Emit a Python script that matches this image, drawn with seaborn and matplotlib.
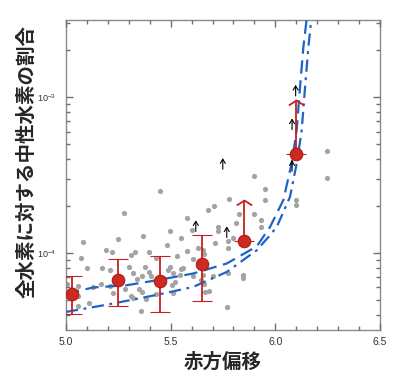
import numpy as np
import pandas as pd
import matplotlib
matplotlib.use("Agg")
import matplotlib.pyplot as plt
import matplotlib.lines as mlines
from matplotlib.path import Path
from matplotlib.ticker import NullFormatter, MultipleLocator, LogLocator, FormatStrFormatter
import seaborn as sns

# gray sample points (redshift, neutral fraction)
z_pts = [5.449, 5.279, 5.080, 5.250, 5.190, 5.221, 5.369, 5.330, 5.309, 5.398,
         5.070, 5.099, 5.171, 5.210, 5.300, 5.379, 5.430, 5.319, 5.397, 5.362,
         5.341, 5.405, 5.006, 5.059, 5.130, 5.166, 5.210, 5.226, 5.282, 5.350,
         5.362, 5.309, 5.059, 5.003, 5.322, 5.382, 5.430, 5.111, 5.059, 5.358,
         5.900, 5.951, 5.779, 5.709, 5.680, 5.828, 5.900, 5.580, 5.930, 5.497,
         5.601, 5.728, 5.728, 5.811, 5.930, 5.799, 5.773, 5.549, 5.481, 5.712,
         5.773, 5.656, 5.629, 5.580, 5.529, 5.661, 5.608, 5.558, 5.548, 5.497,
         5.489, 5.513, 5.545, 5.521, 5.505, 5.513, 5.608, 5.656, 5.646, 5.661,
         5.701, 5.773, 5.847, 5.847, 5.664, 5.685, 5.771, 6.248, 6.248, 5.951,
         6.099, 6.099]
f_pts = [2.50e-4, 1.81e-4, 1.17e-4, 1.22e-4, 1.05e-4, 1.01e-4, 1.29e-4, 1.02e-4, 9.67e-5, 1.01e-4,
         9.29e-5, 8.05e-5, 7.97e-5, 7.74e-5, 8.13e-5, 8.13e-5, 9.34e-5, 7.44e-5, 7.51e-5, 7.08e-5,
         6.81e-5, 7.16e-5, 6.35e-5, 6.11e-5, 6.05e-5, 6.36e-5, 6.11e-5, 5.53e-5, 5.90e-5, 5.90e-5,
         5.62e-5, 5.27e-5, 5.27e-5, 5.27e-5, 5.12e-5, 5.09e-5, 5.43e-5, 4.78e-5, 4.55e-5, 4.22e-5,
         3.13e-4, 2.59e-4, 2.21e-4, 2.01e-4, 1.88e-4, 1.77e-4, 1.77e-4, 1.68e-4, 1.62e-4, 1.38e-4,
         1.40e-4, 1.46e-4, 1.38e-4, 1.55e-4, 1.46e-4, 1.24e-4, 1.19e-4, 1.25e-4, 1.13e-4, 1.16e-4,
         1.08e-4, 1.05e-4, 1.07e-4, 1.03e-4, 9.53e-5, 9.91e-5, 9.20e-5, 8.01e-5, 7.86e-5, 8.13e-5,
         7.82e-5, 7.44e-5, 7.19e-5, 6.52e-5, 6.21e-5, 5.53e-5, 7.08e-5, 7.19e-5, 6.68e-5, 6.27e-5,
         7.12e-5, 7.48e-5, 7.26e-5, 6.95e-5, 5.62e-5, 5.71e-5, 4.50e-5, 4.50e-4, 3.03e-4, 2.18e-4,
         2.18e-4, 2.02e-4]

# lower limits (small black arrows, value at arrow head)
z_lim = [5.749, 5.620, 5.768, 6.097, 6.080, 6.080]
f_lim = [4.06e-4, 1.62e-4, 1.48e-4, 1.20e-3, 7.30e-4, 3.94e-4]

# binned means with error bars
z_bin = [5.030, 5.250, 5.449, 5.648, 5.852, 6.099]
f_bin = [5.43e-5, 6.68e-5, 6.61e-5, 8.55e-5, 1.19e-4, 4.30e-4]
f_lo = [4.03e-5, 4.59e-5, 4.16e-5, 4.92e-5, 7.89e-5, 1.30e-4]
f_hi = [7.08e-5, 9.11e-5, 9.57e-5, 1.31e-4, 2.18e-4, 9.60e-4]
is_lim = [False, False, False, False, True, True]

# model curves
z_dash = [5.000, 5.130, 5.290, 5.449, 5.608, 5.768, 5.879, 5.911, 5.975, 6.038,
          6.078, 6.102, 6.118, 6.134, 6.150]
f_dash = [5.48e-5, 6.00e-5, 6.20e-5, 6.73e-5, 7.38e-5, 8.55e-5, 1.04e-4, 1.10e-4, 1.47e-4, 2.18e-4,
          3.75e-4, 6.14e-4, 1.16e-3, 2.10e-3, 3.20e-3]
z_dd = [5.000, 5.210, 5.449, 5.608, 5.768, 5.911, 5.975, 6.007, 6.070, 6.102,
        6.126, 6.142, 6.158, 6.172]
f_dd = [4.18e-5, 4.69e-5, 5.43e-5, 6.05e-5, 7.55e-5, 1.04e-4, 1.30e-4, 1.47e-4, 2.29e-4, 3.75e-4,
        6.14e-4, 1.16e-3, 2.10e-3, 3.20e-3]

sns.set_style("ticks")
plt.rcParams['font.family'] = ['Liberation Sans', 'DejaVu Sans']
plt.rcParams['xtick.direction'] = 'in'
plt.rcParams['ytick.direction'] = 'in'

red = "#c8201c"
blue = "#1f63c6"
gray_axis = "#707070"

fig = plt.figure(figsize=(4, 3.83), dpi=100)
ax = fig.add_axes([0.165, 0.1384, 0.785, 0.8094])

sns.scatterplot(x=z_pts, y=f_pts, ax=ax, color="#a3a3a3", s=14, linewidth=0, zorder=2)

sns.lineplot(x=z_dash, y=f_dash, ax=ax, color=blue, lw=1.6, estimator=None, sort=False, zorder=3)
ax.lines[-1].set_dashes([6, 3])
sns.lineplot(x=z_dd, y=f_dd, ax=ax, color=blue, lw=1.6, estimator=None, sort=False, zorder=3)
ax.lines[-1].set_dashes([5.5, 2.5, 1.3, 2.5])

# black lower-limit arrows
for zx, fy in zip(z_lim, f_lim):
    ax.annotate("", xy=(zx, fy), xytext=(0, -8), textcoords="offset points",
                arrowprops=dict(arrowstyle="->,head_length=0.3,head_width=0.18",
                                color="black", lw=0.8, shrinkA=0, shrinkB=0), zorder=4)

# red error bars
z_bin = np.array(z_bin)
f_bin = np.array(f_bin)
yerr = [f_bin - np.array(f_lo), np.array(f_hi) - f_bin]
eb = ax.errorbar(z_bin, f_bin, yerr=yerr, lolims=is_lim, fmt="o", color=red,
                 ms=9, mfc="#cc2a22", mec="#b01a14", mew=0.8, elinewidth=1.3,
                 capsize=7.5, capthick=1.3, zorder=5)
chevron = Path([(-1, -0.65), (0, 0), (1, -0.65)], [Path.MOVETO, Path.LINETO, Path.LINETO])
for cl in eb[1]:
    if cl.get_marker() == mlines.CARETUPBASE:
        cl.set_marker(chevron)
        cl.set_markerfacecolor("none")
        cl.set_markeredgecolor(red)
        cl.set_markeredgewidth(1.3)
        cl.set_markersize(11)

ax.set_yscale("log")
ax.set_xlim(5.0, 6.5)
ax.set_ylim(3.2e-5, 3.13e-3)
ax.xaxis.set_major_locator(MultipleLocator(0.5))
ax.xaxis.set_minor_locator(MultipleLocator(0.1))
ax.yaxis.set_minor_locator(LogLocator(base=10, subs=np.arange(2, 10)))
ax.yaxis.set_minor_formatter(NullFormatter())
ax.xaxis.set_major_formatter(FormatStrFormatter("%.1f"))

for sp in ax.spines.values():
    sp.set_color("#8a8a8a")
    sp.set_linewidth(1.0)

jp = ["Noto Sans CJK JP", "DejaVu Sans"]
ax.set_xlabel("赤方偏移", family=jp, fontsize=14, fontweight="bold", labelpad=4)
ax.set_ylabel("全水素に対する中性水素の割合", family=jp, fontsize=14, fontweight="bold")
ax.yaxis.set_label_coords(-0.095, 0.545)

ax.tick_params(axis="x", labelsize=7.5, pad=5)
ax.tick_params(axis="y", labelsize=6.5, pad=7)
ax.tick_params(which="both", direction="in", top=True, right=True, bottom=True, left=True,
               color=gray_axis, width=1.0, labelcolor="#333333")
ax.tick_params(which="major", length=5)
ax.tick_params(which="minor", length=3.2)
ax.set_axisbelow(False)

fig.canvas.draw()
for axis in (ax.xaxis, ax.yaxis):
    for tk, size in [(t, 5) for t in axis.get_major_ticks()] + [(t, 3.2) for t in axis.get_minor_ticks()]:
        for ln in (tk.tick1line, tk.tick2line):
            ln.set_visible(True)
            ln.set_markersize(size)
            ln.set_markeredgewidth(1.0)
            ln.set_color(gray_axis)

fig.savefig("out.png", dpi=100)
